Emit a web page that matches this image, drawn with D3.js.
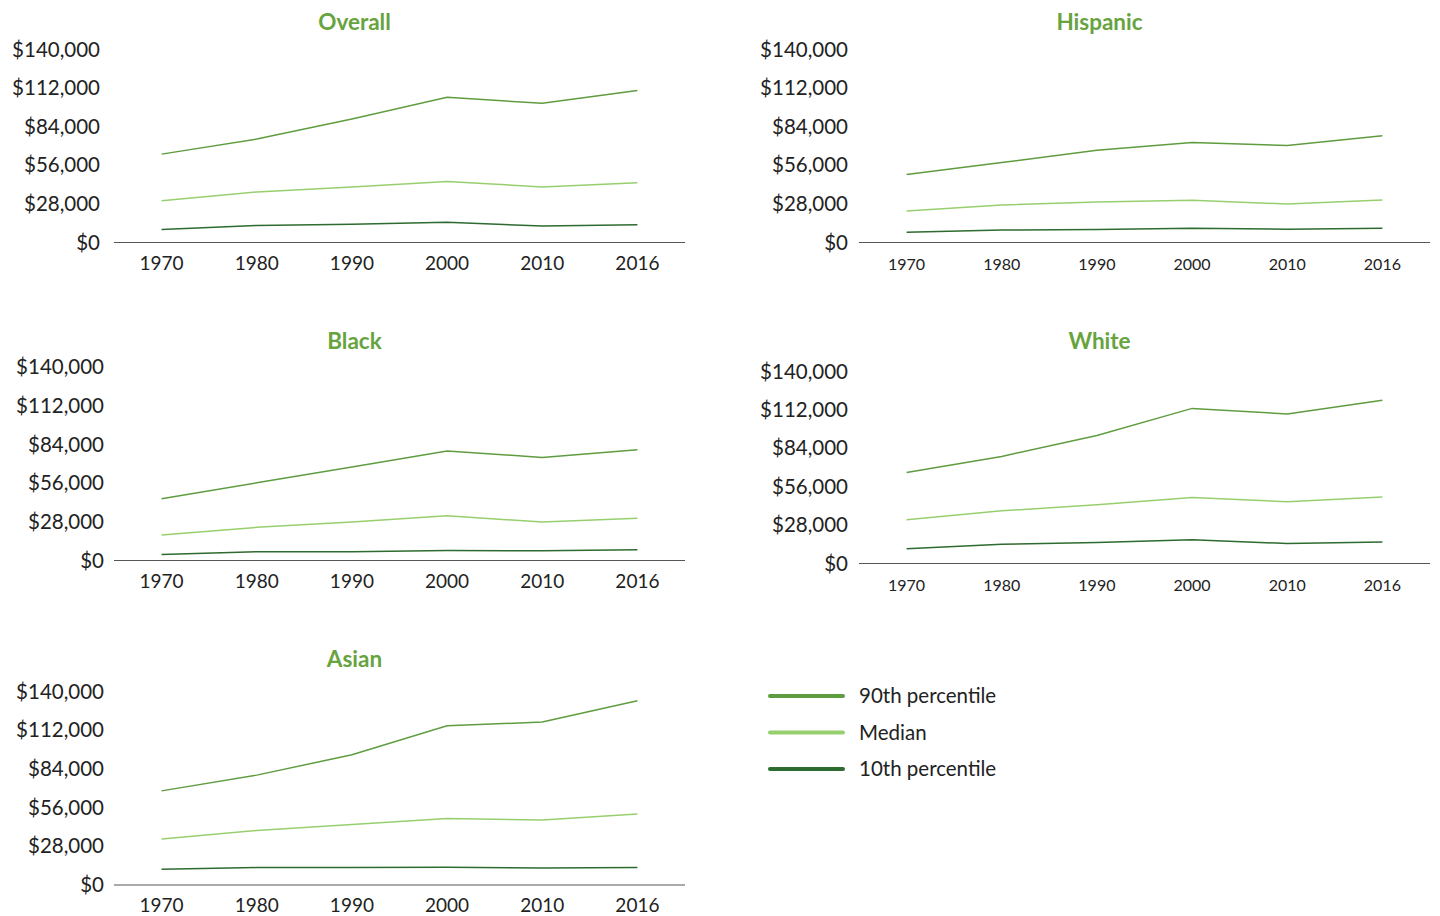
<!DOCTYPE html>
<html lang="en">
<head>
    <title>Household income percentiles by race, 1970-2016</title>
    <script src="https://cdnjs.cloudflare.com/ajax/libs/d3/7.8.5/d3.min.js"></script>
    <style>
        body { margin: 0; background: #fff; }
        svg { font-family: Lato, "Open Sans", sans-serif; }
        .title { font-size: 22.5px; font-weight: 700; fill: #67a33f; text-anchor: middle; }
        .ylab { font-size: 20.5px; fill: #222; text-anchor: end; }
        .xlab { fill: #222; text-anchor: middle; }
        .leg text { font-size: 20.5px; fill: #222; }
    </style>
</head>
<body>
    <svg width="1440" height="916"></svg>

    <script>
        // data (dollars)
        const years = ["1970", "1980", "1990", "2000", "2010", "2016"];
        const groups = ["Overall", "Hispanic", "Black", "White", "Asian"];
        const yTicks = [0, 28000, 56000, 84000, 112000, 140000];

        const p90 = [
            [64100, 75000, 89600, 105300, 101000, 110200],
            [49300, 58000, 67000, 72600, 70400, 77400],
            [44600, 56200, 67600, 79200, 74600, 80100],
            [66400, 78100, 93400, 113100, 109000, 119000],
            [68100, 79500, 94200, 115200, 117900, 133300]
        ];
        const median = [
            [30300, 36700, 40300, 44200, 40300, 43400],
            [22800, 27200, 29400, 30600, 27900, 30800],
            [18400, 24000, 27800, 32400, 27800, 30500],
            [31900, 38400, 42800, 48200, 45000, 48400],
            [33300, 39400, 43700, 48100, 47100, 51400]
        ];
        const p10 = [
            [9500, 12400, 13300, 14600, 11900, 12900],
            [7500, 9000, 9500, 10400, 9700, 10400],
            [4400, 6300, 6300, 7300, 7000, 7700],
            [10700, 14100, 15300, 17300, 14600, 15600],
            [11400, 12600, 12600, 12800, 12300, 12600]
        ];

        const seriesNames = ["90th percentile", "Median", "10th percentile"];
        const seriesData = [p90, median, p10];
        const seriesColors = ["#5f9c40", "#98cf6e", "#2e6b30"];

        // panel placement
        const panels = [
            { x0: 114, x1: 685, yBase: 242.5, yTop: 49.5, labRight: 100, titleY: 30, xLabY: 270, xFont: 19 },
            { x0: 859, x1: 1430, yBase: 242.5, yTop: 49.5, labRight: 848, titleY: 30, xLabY: 270, xFont: 16 },
            { x0: 114, x1: 685, yBase: 560.5, yTop: 367, labRight: 104, titleY: 349, xLabY: 588, xFont: 19 },
            { x0: 859, x1: 1430, yBase: 563.5, yTop: 371.5, labRight: 848, titleY: 349, xLabY: 591, xFont: 16 },
            { x0: 114, x1: 685, yBase: 885, yTop: 691.5, labRight: 104, titleY: 667, xLabY: 912, xFont: 19 }
        ];

        const svg = d3.select("svg");
        const fmt = d => "$" + d3.format(",")(d);

        groups.forEach((name, gi) => {
            const p = panels[gi];
            const g = svg.append("g");

            const x = d3.scalePoint().domain(years).range([p.x0, p.x1]).padding(0.5);
            const y = d3.scaleLinear().domain([0, 140000]).range([p.yBase, p.yTop]);

            g.append("text")
                .attr("class", "title")
                .attr("x", (p.x0 + p.x1) / 2 - 45)
                .attr("y", p.titleY)
                .text(name);

            g.selectAll(".ylab")
                .data(yTicks)
                .join("text")
                .attr("class", "ylab")
                .attr("x", p.labRight)
                .attr("y", d => y(d))
                .attr("dy", "0.35em")
                .text(fmt);

            g.append("line")
                .attr("x1", p.x0).attr("x2", p.x1)
                .attr("y1", p.yBase).attr("y2", p.yBase)
                .attr("stroke", "#555")
                .attr("stroke-width", 1.2);

            g.selectAll(".xlab")
                .data(years)
                .join("text")
                .attr("class", "xlab")
                .attr("x", d => x(d))
                .attr("y", p.xLabY)
                .style("font-size", p.xFont + "px")
                .text(d => d);

            const line = d3.line()
                .x((d, i) => x(years[i]))
                .y(d => y(d));

            seriesData.forEach((s, si) => {
                g.append("path")
                    .attr("d", line(s[gi]))
                    .attr("fill", "none")
                    .attr("stroke", seriesColors[si])
                    .attr("stroke-width", 1.5);
            });
        });

        // legend
        const leg = svg.append("g").attr("class", "leg");
        const legY = d3.scalePoint().domain(seriesNames).range([696, 769]);

        seriesNames.forEach((n, i) => {
            leg.append("line")
                .attr("x1", 770).attr("x2", 843)
                .attr("y1", legY(n)).attr("y2", legY(n))
                .attr("stroke", seriesColors[i])
                .attr("stroke-width", 4)
                .attr("stroke-linecap", "round");
            leg.append("text")
                .attr("x", 859)
                .attr("y", legY(n))
                .attr("dy", "0.35em")
                .text(n);
        });
    </script>
</body>
</html>
